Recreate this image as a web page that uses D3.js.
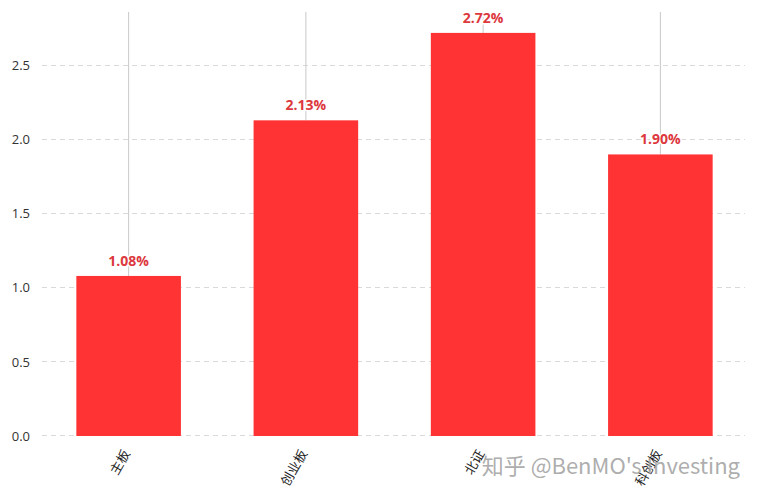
<!DOCTYPE html>
<html>
<head>
<meta charset="utf-8">
<script src="https://cdn.jsdelivr.net/npm/d3@7"></script>
<style>
  body { margin: 0; background: #fff; }
  svg { display: block; font-family: "Noto Sans CJK SC", "Open Sans", sans-serif; }
</style>
</head>
<body>
<svg id="svg" width="758" height="500"></svg>
<script>
// données
const categories = ['主板', '创业板', '北证', '科创板'];
const values = [1.08, 2.13, 2.72, 1.90];
const yTicks = [0, 0.5, 1.0, 1.5, 2.0, 2.5];

const width = 758, height = 500;
const svg = d3.select('#svg');

const x = d3.scaleBand().domain(categories).range([40, 749]).paddingInner(0.41).paddingOuter(0.205);
const y = d3.scaleLinear().domain([0, 2.5]).range([436, 65.5]);

// grille horizontale en pointillés
svg.append('g').selectAll('line')
  .data(yTicks)
  .enter().append('line')
  .attr('x1', 42).attr('x2', 745)
  .attr('y1', d => Math.round(y(d)) - 0.5).attr('y2', d => Math.round(y(d)) - 0.5)
  .attr('stroke', '#d9d9d9')
  .attr('stroke-dasharray', '5,4');

// axe Y (texte seulement)
const yAxis = svg.append('g')
  .attr('transform', 'translate(30,0)')
  .call(d3.axisLeft(y).tickValues(yTicks).tickFormat(d3.format('.1f')).tickSize(0).tickPadding(0));
yAxis.select('.domain').remove();
yAxis.selectAll('text').attr('font-size', 13).attr('fill', '#333')
  .attr('font-family', '"Open Sans", sans-serif');

// lignes verticales au centre des barres
svg.append('g').selectAll('line')
  .data(categories)
  .enter().append('line')
  .attr('x1', d => x(d) + x.bandwidth() / 2)
  .attr('x2', d => x(d) + x.bandwidth() / 2)
  .attr('y1', 12)
  .attr('y2', (d, i) => y(values[i]))
  .attr('stroke', '#c8c8c8');

// barres
svg.append('g').selectAll('rect')
  .data(values)
  .enter().append('rect')
  .attr('x', (d, i) => x(categories[i]))
  .attr('y', d => y(d))
  .attr('width', x.bandwidth())
  .attr('height', d => y(0) - y(d))
  .attr('fill', '#ff3333');

// étiquettes de valeur
svg.append('g').selectAll('text')
  .data(values)
  .enter().append('text')
  .attr('x', (d, i) => x(categories[i]) + x.bandwidth() / 2)
  .attr('y', d => y(d) - 10)
  .attr('text-anchor', 'middle')
  .attr('font-size', 14)
  .attr('font-weight', 'bold')
  .attr('font-family', '"Open Sans", sans-serif')
  .attr('fill', '#dc383d')
  .attr('stroke', '#fff').attr('stroke-width', 3).attr('paint-order', 'stroke')
  .text(d => d.toFixed(2) + '%');

// étiquettes de l'axe X, inclinées
svg.append('g').selectAll('text')
  .data(categories)
  .enter().append('text')
  .attr('transform', d => `translate(${x(d) + x.bandwidth() / 2 - 2},451) rotate(-60)`)
  .attr('text-anchor', 'end')
  .attr('dy', '0.35em')
  .attr('font-size', 13)
  .attr('fill', '#222')
  .text(d => d);

// filigrane
svg.append('text')
  .attr('x', 740).attr('y', 474)
  .attr('text-anchor', 'end')
  .attr('font-size', 22)
  .attr('fill', '#a3a3a3')
  .attr('fill-opacity', 0.9)
  .text('知乎 @BenMO\'s Investing');
</script>
</body>
</html>
